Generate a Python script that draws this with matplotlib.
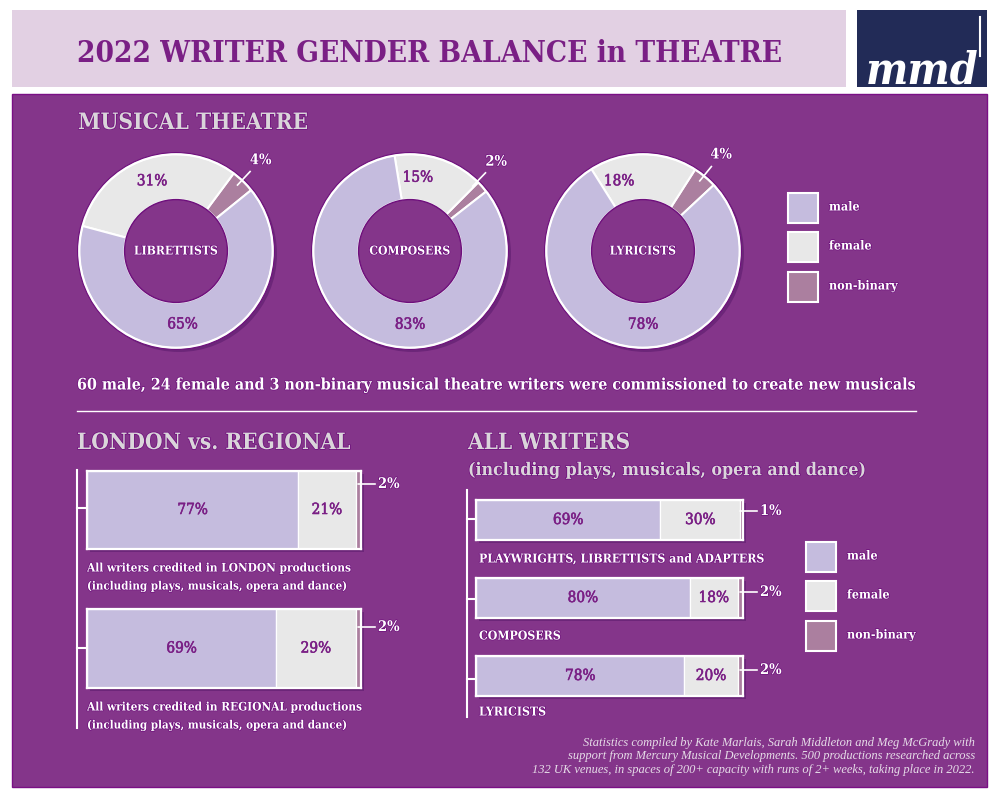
import matplotlib
matplotlib.use('Agg')
import matplotlib.pyplot as plt
import matplotlib.patheffects as pe
from matplotlib.patches import Rectangle, Circle
import numpy as np

# colours
PURPLE = '#84358A'
DARK = '#6E0F7C'
MALE = '#C5BCDE'
FEMALE = '#E8E8E8'
NB = '#AB7F9F'
HEAD = '#DAD5DA'
LABEL = '#7A1F85'
COLORS = [NB, FEMALE, MALE]

# data, pies go non-binary, female, male
pie_names = ['LIBRETTISTS', 'COMPOSERS', 'LYRICISTS']
pie_values = [[4, 31, 65], [2, 15, 83], [4, 18, 78]]

london_names = ['LONDON', 'REGIONAL']
london_male = [77, 69]
london_female = [21, 29]
london_nb = [2, 2]

writer_names = ['PLAYWRIGHTS, LIBRETTISTS and ADAPTERS', 'COMPOSERS', 'LYRICISTS']
writer_male = [69, 80, 78]
writer_female = [30, 18, 20]
writer_nb = [1, 2, 2]

legend_names = ['male', 'female', 'non-binary']

# layout in pixels
pie_centers = [176, 410, 643]
pie_starts = [39, 38, 43]
pie_female_angle = [109, 84, 109]
pie_male_angle = [275, 270, 270]
pie_nb_angle = [47, 46, 51]
PIE_Y = 251
PIE_R = 97

SERIF = 'DejaVu Serif'
outline = [pe.withStroke(linewidth=1.0, foreground=DARK)]
thin = [pe.withStroke(linewidth=0.4, foreground=LABEL)]

fig = plt.figure(figsize=(10, 8), dpi=100, facecolor='white')
bg = fig.add_axes([0, 0, 1, 1])
bg.set_xlim(0, 1000)
bg.set_ylim(800, 0)
bg.axis('off')


def px_axes(x0, y0, x1, y1):
    # axes from pixel box, y measured from the top
    ax = fig.add_axes([x0 / 1000, 1 - y1 / 800, (x1 - x0) / 1000, (y1 - y0) / 800])
    ax.patch.set_alpha(0)
    return ax


def txt(x, y, s, size, color='white', weight='bold', ha='left', style='normal', stroke=True, family=SERIF, stretch='condensed'):
    t = bg.text(x, y, s, fontsize=size, color=color, fontweight=weight, ha=ha, va='center',
                style=style, family=family, stretch=stretch)
    if stroke:
        t.set_path_effects(outline)
    return t


def pct(ax, x, y, v):
    # purple value label inside a mark
    t = ax.text(x, y, f'{v}%', color=LABEL, fontsize=11, ha='center', va='center', family=SERIF, stretch='condensed')
    t.set_path_effects(thin)


# header and panel
bg.add_patch(Rectangle((12, 10), 834, 77, fc='#E2D0E3', ec='none'))
bg.add_patch(Rectangle((857, 10), 130, 77, fc='#222B57', ec='none'))
bg.add_patch(Rectangle((12, 94), 975, 693, fc=PURPLE, ec='#7A0F85', lw=1))
txt(77, 53, '2022 WRITER GENDER BALANCE in THEATRE', 21.3, color='#7A1F85', stroke=False)

# logo
bg.text(866, 83, 'mmd', fontsize=32, color='white', fontweight='bold', style='italic', family=SERIF,
        va='baseline', ha='left', stretch='condensed')
bg.plot([980, 980], [17, 56], color='white', lw=1.5)

# section text
txt(78, 123, 'MUSICAL THEATRE', 16.3, color=HEAD)
txt(77, 385, '60 male, 24 female and 3 non-binary musical theatre writers were commissioned to create new musicals', 11.45)
bg.plot([77, 916], [411, 411], color='white', lw=1)
txt(77, 443, 'LONDON vs. REGIONAL', 16.2, color=HEAD)
txt(468, 443, 'ALL WRITERS', 16.2, color=HEAD)
txt(468, 470, '(including plays, musicals, opera and dance)', 12.7, color=HEAD)

# donuts
for i, name in enumerate(pie_names):
    cx = pie_centers[i]
    bg.add_patch(Circle((cx + 3, PIE_Y + 3), PIE_R + 1, fc='#4A1060', ec='none', alpha=0.4))
    ax = px_axes(cx - 110, PIE_Y - 110, cx + 110, PIE_Y + 110)
    ax.pie(pie_values[i], colors=COLORS, startangle=pie_starts[i], counterclock=True, radius=1,
           wedgeprops=dict(width=0.47, edgecolor='white', linewidth=1.5), frame=False)
    ax.set_xlim(-110 / PIE_R, 110 / PIE_R)
    ax.set_ylim(-110 / PIE_R, 110 / PIE_R)
    ax.add_patch(Circle((0, 0), 1.0, fc='none', ec='white', lw=2))
    ax.add_patch(Circle((0, 0), 1.015, fc='none', ec=DARK, lw=0.8))
    ax.add_patch(Circle((0, 0), 0.53, fc=PURPLE, ec=DARK, lw=1))
    nb, female, male = pie_values[i]
    fa = np.radians(pie_female_angle[i])
    ma = np.radians(pie_male_angle[i])
    na = np.radians(pie_nb_angle[i])
    pct(ax, 0.76 * np.cos(fa), 0.76 * np.sin(fa), female)
    pct(ax, 0.76 * np.cos(ma), 0.76 * np.sin(ma), male)
    ax.plot([0.93 * np.cos(na), 1.12 * np.cos(na)], [0.93 * np.sin(na), 1.12 * np.sin(na)], color='white', lw=1.2)
    # this one sits outside the axes box
    t = ax.text(1.28 * np.cos(na), 1.28 * np.sin(na), f'{nb}%', color='white', fontsize=10.5, fontweight='bold',
                ha='center', va='center', family=SERIF, stretch='condensed', clip_on=False)
    t.set_path_effects(outline)
    ct = ax.text(0, 0, name, color='white', fontsize=8.7, fontweight='bold', ha='center', va='center',
                 family=SERIF, stretch='condensed')
    ct.set_path_effects(outline)


def draw_bar(x0, y0, x1, y1, male, female, nb, lead_y):
    bg.add_patch(Rectangle((x0 + 3, y0 + 3), x1 - x0, y1 - y0, fc='#4A1060', ec='none', alpha=0.4))
    ax = px_axes(x0, y0, x1, y1)
    left = 0
    for v, c in zip([male, female, nb], [MALE, FEMALE, NB]):
        ax.barh([0], [v], left=[left], color=c, edgecolor='white', linewidth=0.9, height=1)
        left += v
    ax.set_xlim(0, 100)
    ax.set_ylim(-0.5, 0.5)
    ax.set_xticks([])
    ax.set_yticks([])
    for s in ax.spines.values():
        s.set_color('white')
        s.set_linewidth(1.6)
    pct(ax, male / 2, 0, male)
    pct(ax, male + female / 2, 0, female)
    a = ax.annotate(f'{nb}%', xy=(x1 - 3, lead_y), xycoords=bg.transData, xytext=(20, 0),
                    textcoords='offset pixels', va='center', ha='left', color='white', fontsize=10.5,
                    fontweight='bold', family=SERIF, stretch='condensed', annotation_clip=False,
                    arrowprops=dict(arrowstyle='-', color='white', lw=1.2, shrinkA=0, shrinkB=0))
    a.set_path_effects(outline)


# london vs regional bars
bg.plot([77, 77], [470, 728], color='white', lw=1.5)
for yt in [508, 648]:
    bg.plot([77, 87], [yt, yt], color='white', lw=1.5)
draw_bar(87, 471, 361, 549, london_male[0], london_female[0], london_nb[0], 484)
draw_bar(87, 609, 361, 688, london_male[1], london_female[1], london_nb[1], 627)
for y, name in zip([568, 707], london_names):
    txt(87, y, f'All writers credited in {name} productions', 8.5)
    txt(87, y + 18, '(including plays, musicals, opera and dance)', 8.3)

# all writers bars
bg.plot([467, 467], [490, 717], color='white', lw=1.5)
for yt in [519, 599, 679]:
    bg.plot([467, 477], [yt, yt], color='white', lw=1.5)
writer_y = [500, 578, 656]
lead_y = [511, 592, 670]
cap_y = [559, 636, 712]
for i in range(3):
    draw_bar(476, writer_y[i], 743, writer_y[i] + 40, writer_male[i], writer_female[i], writer_nb[i], lead_y[i])
    txt(479, cap_y[i], writer_names[i], 8.8)

# legends
for lx, ly in [(788, [193, 232, 272]), (806, [542, 581, 621])]:
    for y, c, name in zip(ly, [MALE, FEMALE, NB], legend_names):
        bg.add_patch(Rectangle((lx, y), 30, 30, fc=c, ec='white', lw=1.5))
        txt(lx + 41, y + 14, name, 9)

# source note
foot = ['Statistics compiled by Kate Marlais, Sarah Middleton and Meg McGrady with',
        'support from Mercury Musical Developments. 500 productions researched across',
        '132 UK venues, in spaces of 200+ capacity with runs of 2+ weeks, taking place in 2022.']
for y, s in zip([743, 756, 770], foot):
    txt(975, y, s, 9, color='#E6DCE8', weight='normal', ha='right', style='italic', stroke=False,
        family='Liberation Serif', stretch='normal')

fig.savefig('out.png', dpi=100)
